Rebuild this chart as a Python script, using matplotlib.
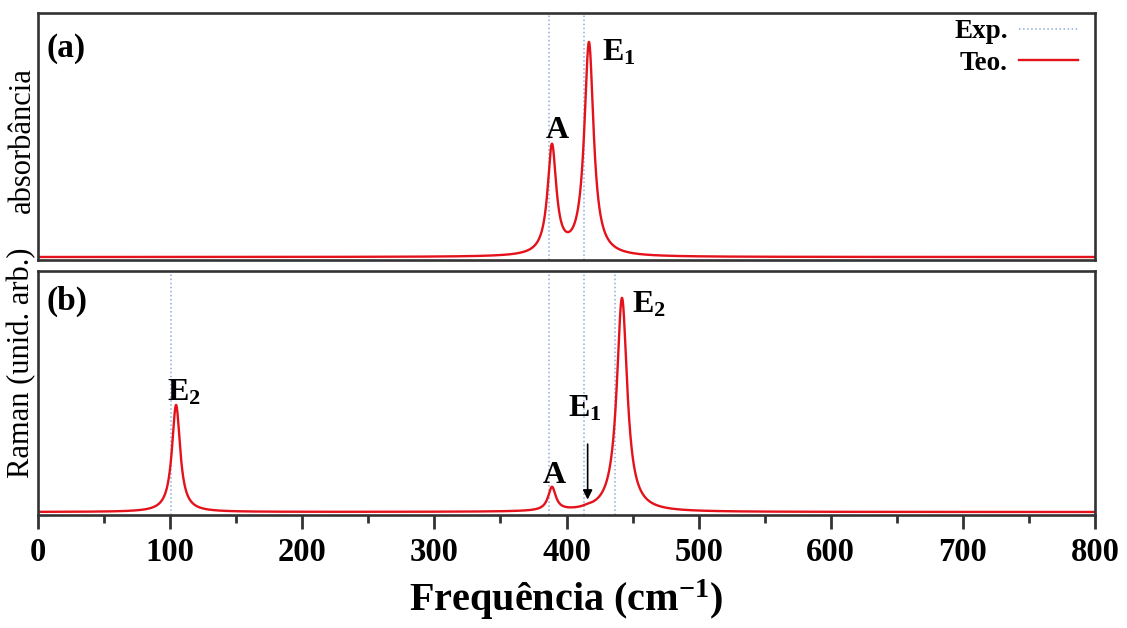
import numpy as np
import matplotlib
matplotlib.use('Agg')
import matplotlib.pyplot as plt
from matplotlib.ticker import MultipleLocator

plt.rcParams['font.family'] = 'Liberation Serif'
plt.rcParams['mathtext.fontset'] = 'custom'
plt.rcParams['mathtext.rm'] = 'Liberation Serif:bold'
plt.rcParams['mathtext.bf'] = 'Liberation Serif:bold'
plt.rcParams['mathtext.it'] = 'Liberation Serif:bold'

# theoretical modes (cm-1), relative intensities, broadening (FWHM)
abs_freq = [389, 417]
abs_int = [0.51, 1.0]
abs_fwhm = [8, 8.5]

raman_freq = [104.5, 389, 416, 442]
raman_int = [0.50, 0.11, 0.005, 1.0]
raman_fwhm = [7.5, 7, 8, 9.5]

# experimental positions (cm-1)
exp_abs = [387, 413]
exp_raman = [101, 387, 413, 437]

x = np.linspace(0, 800, 8001)


def spectrum(freqs, ints, fwhm):
    y = np.zeros_like(x)
    for f, h, g in zip(freqs, ints, fwhm):
        hw = g / 2.0
        y += h * hw**2 / ((x - f)**2 + hw**2)
    return y


red = '#e3121b'
blue = '#8eaad8'
spine_c = '#333333'

fig = plt.figure(figsize=(11.27, 6.28), dpi=100)
ax1 = fig.add_axes([38/1127, 1-260/628, 1057/1127, 247/628])
ax2 = fig.add_axes([38/1127, 1-515/628, 1057/1127, 244/628])

for ax in (ax1, ax2):
    for s in ax.spines.values():
        s.set_linewidth(1.9)
        s.set_color(spine_c)
    ax.set_xlim(0, 800)
    ax.set_yticks([])

# (a) absorbance
for i, f in enumerate(exp_abs):
    ax1.axvline(f, color=blue, ls=':', lw=1.1, label='Exp.' if i == 0 else None)
ax1.plot(x, spectrum(abs_freq, abs_int, abs_fwhm), color=red, lw=1.7, label='Teo.')
ax1.set_ylim(-0.014, 1.146)
ax1.tick_params(axis='x', which='both', bottom=False, labelbottom=False)

# (b) Raman
for f in exp_raman:
    ax2.axvline(f, color=blue, ls=':', lw=1.1)
ax2.plot(x, spectrum(raman_freq, raman_int, raman_fwhm), color=red, lw=1.7)
ax2.set_ylim(-0.014, 1.126)
ax2.xaxis.set_major_locator(MultipleLocator(100))
ax2.xaxis.set_minor_locator(MultipleLocator(50))
ax2.tick_params(axis='x', which='major', direction='out', length=10, width=2,
                color=spine_c, pad=6, labelsize=23.5)
ax2.tick_params(axis='x', which='minor', direction='out', length=6, width=2,
                color=spine_c)
for lab in ax2.get_xticklabels():
    lab.set_fontweight('bold')
ax2.set_xlabel('Frequência (cm$^{\\mathbf{-1}}$)', fontsize=29, fontweight='bold', labelpad=7)

# legend
leg = ax1.legend(loc='upper right', bbox_to_anchor=(0.997, 1.03), frameon=False,
                 markerfirst=False, handlelength=2.2, labelspacing=0.25,
                 handletextpad=0.4, borderaxespad=0.1,
                 prop={'weight': 'bold', 'size': 19.5})

# panel letters
ax1.text(0.008, 0.92, '(a)', transform=ax1.transAxes, fontsize=24, fontweight='bold', va='top')
ax2.text(0.008, 0.94, '(b)', transform=ax2.transAxes, fontsize=24, fontweight='bold', va='top')

# peak labels
lab_kw = dict(fontsize=23, fontweight='bold')
ax1.text(393, 0.56, 'A', ha='center', va='baseline', **lab_kw)
ax1.text(427, 0.925, 'E$_1$', ha='left', va='baseline', **lab_kw)
ax2.text(97.5, 0.52, 'E$_2$', ha='left', va='baseline', **lab_kw)
ax2.text(391, 0.135, 'A', ha='center', va='baseline', **lab_kw)
ax2.text(401, 0.444, 'E$_1$', ha='left', va='baseline', **lab_kw)
ax2.text(449.5, 0.93, 'E$_2$', ha='left', va='baseline', **lab_kw)
ax2.annotate('', xy=(416, 0.045), xytext=(416, 0.33),
             arrowprops=dict(arrowstyle='-|>', color='black', lw=1.2, mutation_scale=14))

# y labels
fig.text(22/1127, 1-140/628, 'absorbância', rotation=90, ha='center', va='center', fontsize=22)
fig.text(22/1127, 1-363/628, 'Raman (unid. arb.)', rotation=90, ha='center', va='center', fontsize=22)

fig.savefig('out.png', dpi=100)
